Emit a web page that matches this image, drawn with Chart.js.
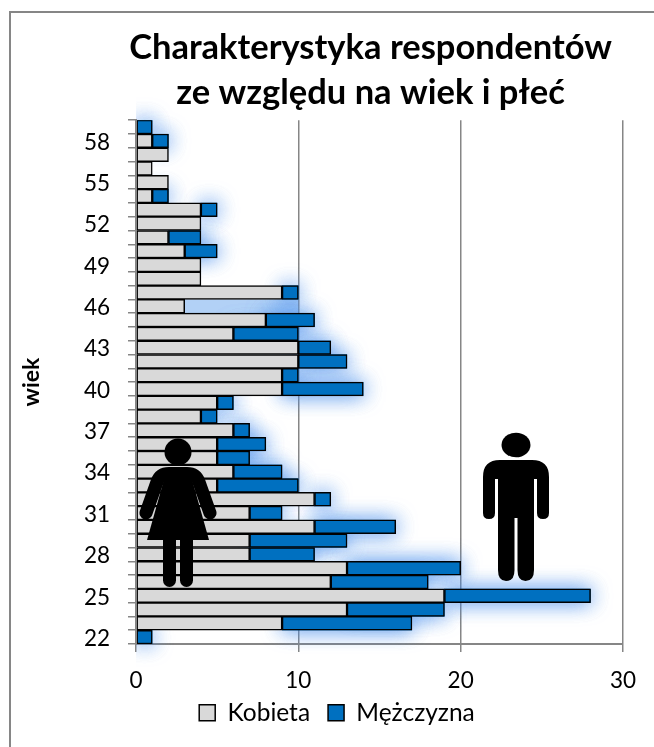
<!DOCTYPE html>
<html lang="pl"><head><meta charset="utf-8">
<script src="https://cdn.jsdelivr.net/npm/chart.js@4"></script>
<style>
html,body{margin:0;padding:0;background:#fff}
#wrap{position:relative;width:654px;height:747px}
canvas{position:absolute;left:0;top:0}
svg{position:absolute;left:0;top:0;pointer-events:none}
</style></head><body>
<div id="wrap">
<canvas id="c" width="654" height="747"></canvas>
<svg width="654" height="747" viewBox="0 0 654 747">
  <g fill="#000">
    <circle cx="178" cy="452" r="13.5"/>
    <path d="M146 513 L157 482 Q160 473.500 169 473.500 H187 Q196 473.500 199 482 L210 513" fill="none" stroke="#000" stroke-width="13" stroke-linecap="round"/>
    <path d="M165 476 H191 L209 540 H147 Z"/>
    <path d="M163 535 H176 V580.500 A6.500 6.500 0 0 1 163 580.500 Z"/>
    <path d="M180 535 H193 V580.500 A6.500 6.500 0 0 1 180 580.500 Z"/>
    <ellipse cx="516" cy="445" rx="14.5" ry="12.3"/>
    <path d="M500 460 H532 Q549 460 549 477 V513 Q549 519 543 519 Q537 519 537 513 V479 H534 V570 Q534 581 525.500 581 Q517.500 581 517.500 570 V518 H514.500 V570 Q514.500 581 506 581 Q498 581 498 570 V479 H495 V513 Q495 519 489 519 Q483 519 483 513 V477 Q483 460 500 460 Z"/>
  </g>
</svg>
</div>
<script>
const categories = ["59","58","57","56","55","54","53","52","51","50","49","48","47","46","45","44","43","42","41","40","39","38","37","36","35","34","33","32","31","30","29","28","27","26","25","24","23","22"];
const kobieta =   [0,1,2,1,2,1,4,4,2,3,4,4,9,3,8,6,10,10,9,9,5,4,6,5,5,6,5,11,7,11,7,7,13,12,19,13,9,0];
const mezczyzna = [1,1,0,0,0,1,1,0,2,2,0,0,1,0,3,4,2,3,1,5,1,1,1,3,2,3,5,1,2,5,6,4,7,6,9,6,8,1];
const titleLines = ["Charakterystyka respondentów","ze względu na wiek i płeć"];
const shownAges = ["58","55","52","49","46","43","40","37","34","31","28","25","22"];
const washAge = "46";
const washEnd = 10;
const FONT = "Lato, Carlito, sans-serif";

const glow = {
  id:"glow",
  beforeDatasetDraw(chart,args){
    if(args.index!==1) return;
    const c=chart.ctx;c.save();
    c.beginPath();c.rect(chart.chartArea.left,0,chart.width-chart.chartArea.left,chart.height);c.clip();
    const yS=chart.scales.y,xS=chart.scales.x,i=categories.indexOf(washAge),h=yS.getPixelForValue(1)-yS.getPixelForValue(0);
    c.fillStyle="rgba(130,180,240,0.62)";
    c.fillRect(xS.getPixelForValue(kobieta[i]),yS.getPixelForValue(i)-h/2,xS.getPixelForValue(washEnd)-xS.getPixelForValue(kobieta[i]),h);
    c.shadowColor="rgba(70,140,235,0.62)";c.shadowBlur=20;c.fillStyle="#0070c0";
    for(let pass=0;pass<2;pass++){
      args.meta.data.forEach(el=>{
        const p=el.getProps(["x","y","base","height"],true);
        if(p.x-p.base<=0) return;
        c.fillRect(p.base,p.y-p.height/2,p.x-p.base,p.height);
      });
    }
    c.restore();
  }
};
const placement = {
  id:"placement",
  afterLayout(chart){
    const t=chart.titleBlock,l=chart.legend;
    t.left-=9;t.right-=9;
    l.left+=25.5;l.right+=25.5;l.top-=12;l.bottom-=12;
  }
};
const frame = {
  id:"frame",
  afterDraw(chart){
    const c=chart.ctx;c.save();c.strokeStyle="#868686";c.lineWidth=2;
    c.beginPath();c.moveTo(10,chart.height);c.lineTo(10,12);c.lineTo(chart.width,12);c.stroke();c.restore();
  }
};
new Chart(document.getElementById("c"),{
  type:"bar",
  data:{labels:categories,datasets:[
    {label:"Kobieta",data:kobieta,backgroundColor:"#d9d9d9",borderColor:"#000",borderWidth:1.5,borderSkipped:false,order:1},
    {label:"Mężczyzna",data:mezczyzna,backgroundColor:"#0070c0",borderColor:"#000",borderWidth:1.5,borderSkipped:false,order:2}
  ]},
  plugins:[glow,placement,frame],
  options:{
    indexAxis:"y",responsive:false,animation:false,
    barPercentage:1,categoryPercentage:1,
    layout:{padding:{left:0,right:31,top:25.5,bottom:0}},
    scales:{
      x:{stacked:true,min:0,max:30,afterFit(s){s.height=50.5;},
         ticks:{stepSize:10,color:"#000",font:{family:FONT,size:22.5},padding:15,maxRotation:0},
         grid:{color:"#868686",lineWidth:1.5,tickLength:8},border:{color:"#868686",width:2}},
      y:{stacked:true,afterFit(s){s.width=136;},
         title:{display:true,text:"wiek",color:"#000",font:{family:FONT,size:23,weight:"bold"},padding:{top:18,bottom:0}},
         grid:{drawOnChartArea:false,color:"#868686",lineWidth:1.5,tickLength:8},border:{color:"#868686",width:2,z:1},
         ticks:{autoSkip:false,color:"#000",font:{family:FONT,size:22.5},padding:18,labelOffset:1.5,
           callback(v){const l=this.getLabelForValue(v);return shownAges.includes(l)?l:"";}}}
    },
    plugins:{
      title:{display:true,fullSize:false,text:titleLines,color:"#000",font:{family:FONT,size:34.5,weight:"bold",lineHeight:1.3},padding:{top:0,bottom:5}},
      legend:{position:"bottom",labels:{color:"#000",font:{family:FONT,size:24.5},boxWidth:16,boxHeight:16,padding:18}},
      tooltip:{enabled:false}
    }
  }
});
</script>
</body></html>
